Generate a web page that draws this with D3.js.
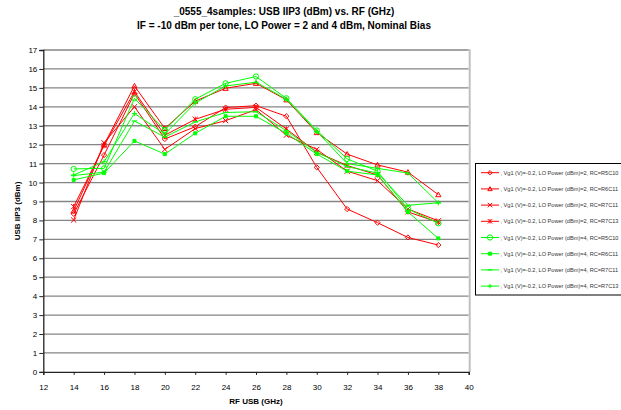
<!DOCTYPE html>
<html><head><meta charset="utf-8">
<script src="https://cdn.jsdelivr.net/npm/d3@7"></script>
<style>body{margin:0;background:#fff}svg{display:block;font-family:"Liberation Sans",Arial,sans-serif}</style>
</head><body><svg id="c" width="621" height="410"></svg>
<script>
const titleLines = ["_0555_4samples: USB IIP3 (dBm) vs. RF (GHz)", "IF = -10 dBm per tone, LO Power = 2 and 4 dBm, Nominal Bias"];
const xLabel = "RF USB (GHz)";
const yLabel = "USB IIP3 (dBm)";
const freqs = [14,16,18,20,22,24,26,28,30,32,34,36,38];
const xTicks = [12,14,16,18,20,22,24,26,28,30,32,34,36,38,40];
const yTicks = d3.range(0,18);
const seriesNames = [
 ", Vg1 (V)=-0.2, LO Power (dBm)=2, RC=R5C10",
 ", Vg1 (V)=-0.2, LO Power (dBm)=2, RC=R6C11",
 ", Vg1 (V)=-0.2, LO Power (dBm)=2, RC=R7C11",
 ", Vg1 (V)=-0.2, LO Power (dBm)=2, RC=R7C13",
 ", Vg1 (V)=-0.2, LO Power (dBm)=4, RC=R5C10",
 ", Vg1 (V)=-0.2, LO Power (dBm)=4, RC=R6C11",
 ", Vg1 (V)=-0.2, LO Power (dBm)=4, RC=R7C11",
 ", Vg1 (V)=-0.2, LO Power (dBm)=4, RC=R7C13"];
const r5c10_2 = [8.35,11.45,14.7,12.3,12.95,13.96,14.06,13.5,10.8,8.6,7.88,7.1,6.7];
const r6c11_2 = [8.5,12.0,15.1,12.86,14.3,14.98,15.24,14.37,12.64,11.5,10.93,10.55,9.36];
const r7c11_2 = [8.02,12.1,14.0,11.75,12.85,13.27,13.85,12.5,11.75,10.6,10.1,8.6,7.98];
const r7c13_2 = [8.73,11.95,14.8,12.5,13.34,13.87,13.97,12.83,11.6,10.9,10.4,8.45,7.9];
const r5c10_4 = [10.72,10.75,14.45,12.78,14.4,15.24,15.6,14.45,12.75,11.25,10.6,8.6,7.85];
const r6c11_4 = [10.14,10.5,12.2,11.5,12.6,13.5,13.5,12.6,11.5,10.6,10.4,8.45,7.05];
const r7c11_4 = [10.37,10.55,13.25,12.4,13.2,13.7,13.74,12.74,11.6,10.84,10.5,8.8,8.93];
const r7c13_4 = [10.4,11.1,13.65,12.56,14.2,15.1,15.3,14.4,12.7,11.0,10.75,10.5,8.93];
const seriesValues = [r5c10_2,r6c11_2,r7c11_2,r7c13_2,r5c10_4,r6c11_4,r7c11_4,r7c13_4];
const seriesColors = ["#ff0000","#ff0000","#ff0000","#ff0000","#00ff00","#00ff00","#00ff00","#00ff00"];
const seriesMarkers = ["diamond","triangle","x","asterisk","circle","square","dash","plus"];

const svg = d3.select("#c");
const L=43.3, R=468.7, T=50, B=371.9;
const x = d3.scaleLinear().domain([12,40]).range([L,R]);
const y = d3.scaleLinear().domain([0,17]).range([B,T]);

svg.selectAll("text.title").data(titleLines).join("text")
  .attr("x",284).attr("y",(d,i)=>15+i*14).attr("text-anchor","middle")
  .attr("font-size","10px").attr("font-weight","bold").text(d=>d);

// gridlines
svg.append("g").selectAll("line").data(yTicks.filter(d=>d>0)).join("line")
  .attr("x1",L).attr("x2",R).attr("y1",d=>y(d)).attr("y2",d=>y(d))
  .attr("stroke","#858585").attr("stroke-width",1.3);
svg.append("line").attr("x1",R+1).attr("x2",R+1).attr("y1",T-0.7).attr("y2",B)
  .attr("stroke","#c0c0c0").attr("stroke-width",2);

const xa = svg.append("g").attr("transform",`translate(0,${B})`)
  .call(d3.axisBottom(x).tickValues(xTicks).tickSize(3).tickPadding(9).tickFormat(d3.format("d")));
const ya = svg.append("g").attr("transform",`translate(${L},0)`)
  .call(d3.axisLeft(y).tickValues(yTicks).tickSize(4).tickPadding(2).tickFormat(d3.format("d")));
[xa,ya].forEach(a=>{a.select(".domain").attr("stroke","#222").attr("stroke-width",1.3);
  a.selectAll(".tick line").attr("stroke","#222");
  a.selectAll("text").attr("font-size","8px").attr("font-family","'Liberation Sans',Arial,sans-serif").attr("fill","#000");});

svg.append("text").attr("x",(L+R)/2).attr("y",404).attr("text-anchor","middle")
  .attr("font-size","8px").attr("font-weight","bold").text(xLabel);
svg.append("text").attr("transform",`translate(20,${(T+B)/2}) rotate(-90)`).attr("text-anchor","middle")
  .attr("font-size","8px").attr("font-weight","bold").text(yLabel);

function marker(g, type, color, s){
  s = s||2.6;
  const p = g.append("path").attr("fill","none").attr("stroke",color).attr("stroke-width",1);
  if(type==="diamond") p.attr("d",`M0,${-s}L${s},0L0,${s}L${-s},0Z`);
  else if(type==="triangle") p.attr("d",`M0,${-s}L${s},${s*0.8}L${-s},${s*0.8}Z`);
  else if(type==="x") p.attr("d",`M${-s},${-s}L${s},${s}M${-s},${s}L${s},${-s}`);
  else if(type==="asterisk") p.attr("d",`M${-s},${-s}L${s},${s}M${-s},${s}L${s},${-s}M0,${-s}L0,${s}`);
  else if(type==="circle") p.attr("d",d3.symbol(d3.symbolCircle,22)());
  else if(type==="square") p.attr("d",`M-1.5,-1.5H1.5V1.5H-1.5Z`).attr("fill",color);
  else if(type==="dash") p.attr("d",`M${-s},0H${s}`).attr("stroke-width",1.3);
  else if(type==="plus") p.attr("d",`M${-s},0H${s}M0,${-s}V${s}`);
}

const line = d3.line().x((d,i)=>x(freqs[i])).y(d=>y(d));
seriesValues.forEach((vals,k)=>{
  const g = svg.append("g");
  g.append("path").attr("d",line(vals)).attr("fill","none").attr("stroke",seriesColors[k]).attr("stroke-width",1);
  vals.forEach((v,i)=>{
    const mg = g.append("g").attr("transform",`translate(${x(freqs[i])},${y(v)})`);
    marker(mg, seriesMarkers[k], seriesColors[k]);
  });
});

// legend
const lg = svg.append("g");
lg.append("rect").attr("x",475.5).attr("y",163.5).attr("width",150).attr("height",131.5)
  .attr("fill","#fff").attr("stroke","#000").attr("stroke-width",1);
seriesNames.forEach((n,k)=>{
  const yy = 172.7 + k*16.2;
  lg.append("line").attr("x1",481).attr("x2",499).attr("y1",yy).attr("y2",yy)
    .attr("stroke",seriesColors[k]).attr("stroke-width",1);
  const mg = lg.append("g").attr("transform",`translate(490,${yy})`);
  marker(mg, seriesMarkers[k], seriesColors[k], 2.2);
  lg.append("text").attr("x",500.5).attr("y",yy+2).attr("font-size","5.6px").attr("fill","#333").text(n);
});
</script></body></html>
